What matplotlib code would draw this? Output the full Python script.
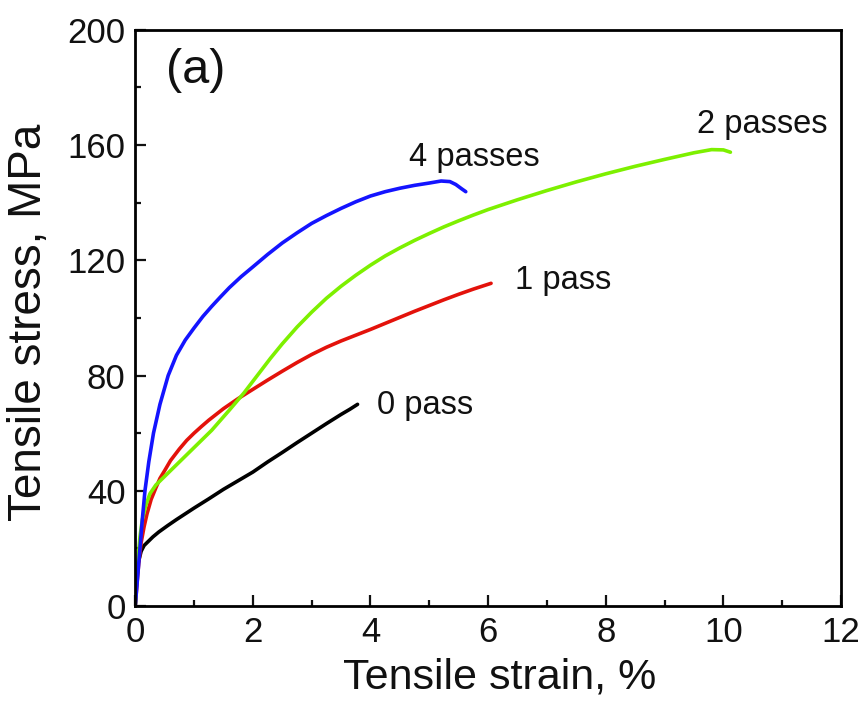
import matplotlib
matplotlib.use("Agg")
import matplotlib.pyplot as plt
from matplotlib.ticker import MultipleLocator

plt.rcParams['font.family'] = ['Liberation Sans', 'DejaVu Sans']

# Tensile curves: strain (%) and stress (MPa) for each number of passes
strain_0 = [0, 0.02, 0.05, 0.1, 0.15, 0.2, 0.3, 0.4, 0.55, 0.7, 0.85, 1.0, 1.25,
            1.5, 1.75, 2.0, 2.25, 2.5, 2.75, 3.0, 3.25, 3.5, 3.65, 3.78]
stress_0 = [0, 8, 15, 19, 21, 22, 24, 25.7, 27.9, 30, 32, 34, 37.2,
            40.5, 43.5, 46.5, 50, 53.3, 56.7, 60, 63.3, 66.5, 68.3, 70]

strain_1 = [0, 0.03, 0.06, 0.1, 0.15, 0.2, 0.27, 0.35, 0.42, 0.5, 0.6, 0.75, 0.875,
            1.0, 1.125, 1.25, 1.5, 1.75, 2.0, 2.25, 2.5, 2.75, 3.0, 3.25, 3.5,
            3.75, 4.0, 4.25, 4.5, 4.75, 5.0, 5.25, 5.5, 5.75, 6.05]
stress_1 = [0, 8, 15, 22, 27.5, 32, 37, 41, 44.3, 47, 50.5, 54.5, 57.5,
            60, 62.3, 64.5, 68.5, 72, 75.2, 78.4, 81.5, 84.5, 87.3, 89.8, 92,
            94, 96, 98.1, 100.2, 102.3, 104.3, 106.3, 108.2, 110, 112]

strain_2 = [0, 0.03, 0.08, 0.12, 0.18, 0.25, 0.35, 0.5, 0.65, 0.8, 1.0, 1.15, 1.3,
            1.45, 1.6, 1.85, 2.0, 2.15, 2.3, 2.5, 2.75, 3.0, 3.25, 3.5, 3.75, 4.0,
            4.25, 4.5, 4.75, 5.0, 5.25, 5.5, 5.75, 6.0, 6.5, 7.0, 7.5, 8.0, 8.5,
            9.0, 9.5, 9.8, 10.0, 10.12]
stress_2 = [0, 12, 24, 30, 35, 39, 42, 45, 48, 51, 55, 58, 61,
            64.5, 68, 74, 78, 82, 86, 91, 96.8, 102, 106.8, 111, 114.8, 118.3,
            121.5, 124.3, 126.9, 129.3, 131.6, 133.7, 135.7, 137.6, 141, 144.2, 147.2, 150, 152.6,
            155, 157.3, 158.4, 158.3, 157.5]

strain_4 = [0, 0.02, 0.04, 0.08, 0.12, 0.165, 0.23, 0.31, 0.42, 0.56, 0.7, 0.85,
            1.0, 1.15, 1.3, 1.45, 1.6, 1.8, 2.0, 2.25, 2.5, 2.75, 3.0, 3.25, 3.5,
            3.75, 4.0, 4.25, 4.5, 4.75, 5.0, 5.2, 5.35, 5.45, 5.55, 5.62]
stress_4 = [0, 5, 10, 20, 30, 40, 50, 60, 70, 80, 87, 92.3,
            96.5, 100.5, 104, 107.3, 110.5, 114.3, 117.7, 122, 126, 129.5, 132.8, 135.5, 138,
            140.3, 142.3, 143.8, 145, 146, 146.8, 147.5, 147.3, 146.3, 144.8, 143.8]

series = [
    (strain_0, stress_0, "#000000", "0 pass", (4.11, 69.6)),
    (strain_1, stress_1, "#e3120b", "1 pass", (6.45, 113)),
    (strain_2, stress_2, "#7df000", "2 passes", (9.56, 167)),
    (strain_4, stress_4, "#1414ff", "4 passes", (4.66, 155.5)),
]

fig = plt.figure(figsize=(8.67, 7.08), dpi=100)
ax = fig.add_axes([0.156, 0.144, 0.814, 0.814])

for x, y, color, label, pos in series:
    ax.plot(x, y, color=color, lw=2.6, solid_capstyle='round', solid_joinstyle='round')
    ax.text(pos[0], pos[1], label, fontsize=23.5, ha='left', va='center', color='#111111')

ax.text(0.52, 186, "(a)", fontsize=35, ha='left', va='center', color='#111111')

ax.set_xlim(0, 12)
ax.set_ylim(0, 200)
ax.xaxis.set_major_locator(MultipleLocator(2))
ax.xaxis.set_minor_locator(MultipleLocator(1))
ax.yaxis.set_major_locator(MultipleLocator(40))
ax.yaxis.set_minor_locator(MultipleLocator(20))
ax.tick_params(which='both', direction='in', width=1.6, top=False, right=False,
               labelsize=25, colors='#111111')
ax.tick_params(which='major', length=8, pad=7)
ax.tick_params(which='minor', length=4)
for sp in ax.spines.values():
    sp.set_linewidth(2.0)

ax.set_xlabel("Tensile strain, %", fontsize=31, color='#111111')
ax.set_ylabel("Tensile stress, MPa", fontsize=33, color='#111111')
ax.xaxis.set_label_coords(0.517, -0.09)
ax.yaxis.set_label_coords(-0.12, 0.493)

fig.savefig("out.png", dpi=100, facecolor='white')
